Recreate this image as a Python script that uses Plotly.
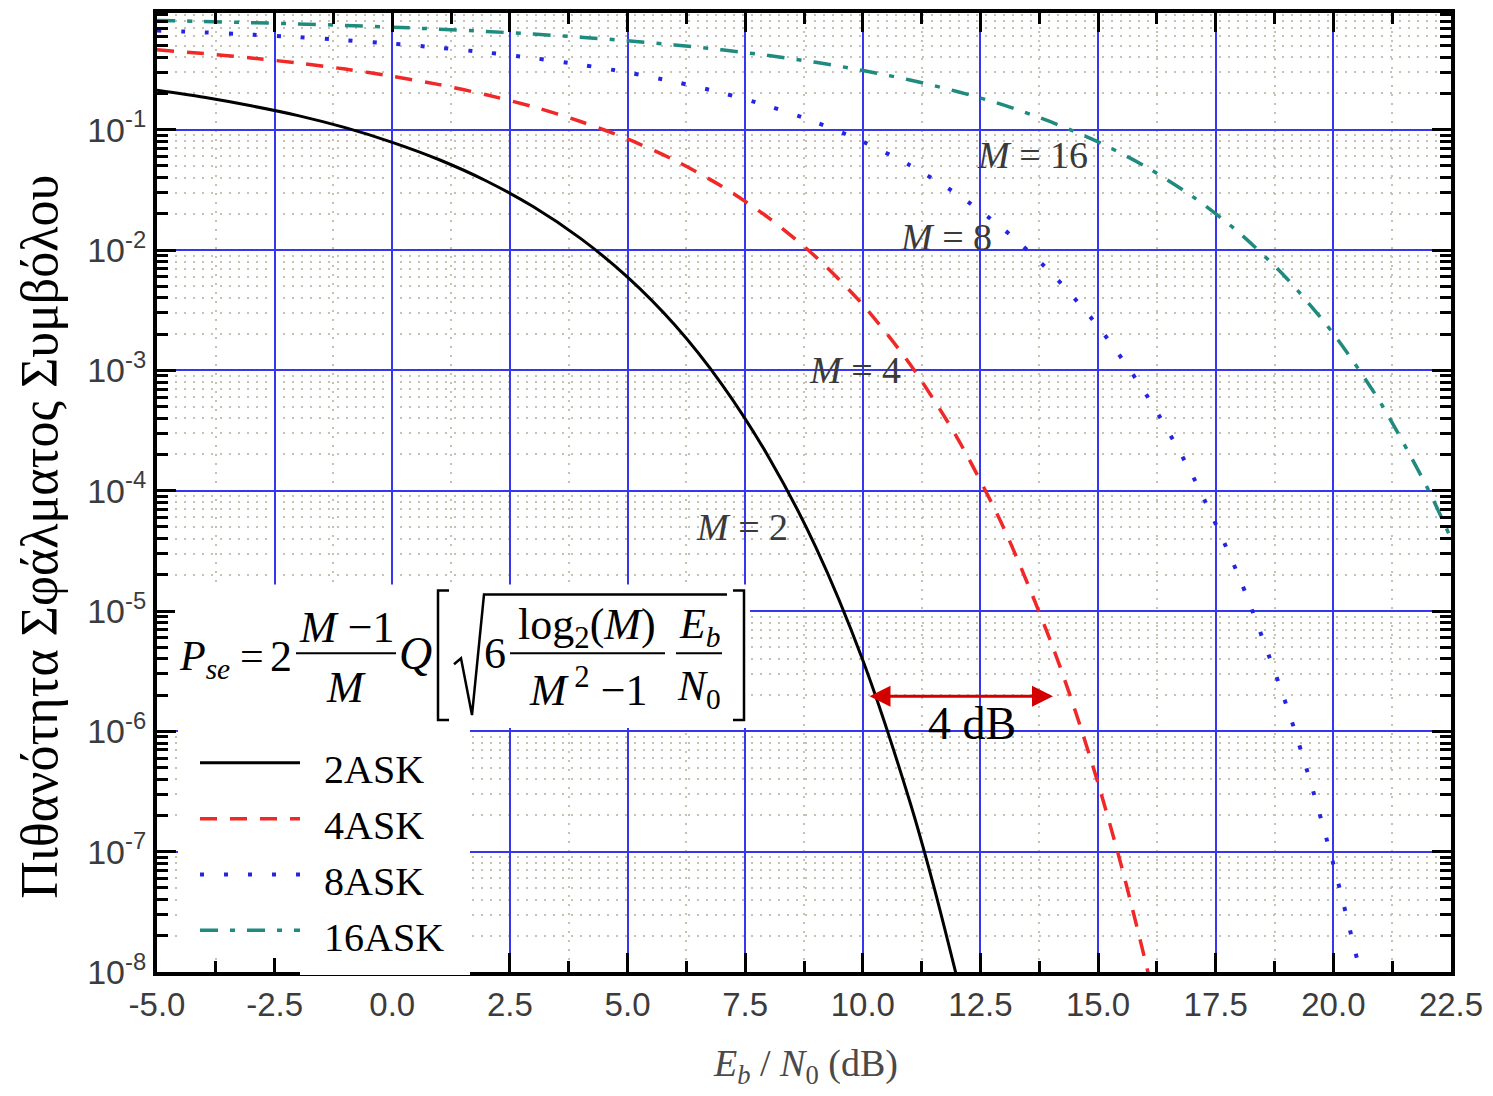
import plotly.graph_objects as go

# ---------------- data ----------------
snr_2ask = [-5, -4, -3, -2, -1, 0, 1, 2, 3, 4, 5, 6, 7, 8, 9, 10, 11, 11.5, 12]
pse_2ask = [0.213, 0.186, 0.158, 0.131, 0.104, 0.0786, 0.0563, 0.0375, 0.0229, 0.0125,
            0.00595, 0.00239, 7.7e-4, 1.9e-4, 3.4e-5, 3.9e-6, 2.6e-7, 5.3e-8, 9e-9]

snr_4ask = [-5, -4, -3, -2, -1, 0, 1, 2, 3, 4, 5, 6, 7, 8, 9, 10, 11, 12, 13, 14, 14.5, 15, 15.5, 16, 16.1]
pse_4ask = [0.461, 0.429, 0.395, 0.358, 0.319, 0.278, 0.237, 0.195, 0.155, 0.117, 0.0838,
            0.0557, 0.0339, 0.0185, 0.00878, 0.00351, 1.13e-3, 2.78e-4, 4.85e-5, 5.5e-6,
            1.54e-6, 3.7e-7, 7.5e-8, 1.25e-8, 8.5e-9]

snr_8ask = [-5, -4, -3, -2, -1, 0, 1, 2, 3, 4, 5, 6, 7, 8, 9, 10, 11, 12, 13, 14, 15,
            16, 17, 18, 19, 19.5, 20, 20.5]
pse_8ask = [0.668, 0.644, 0.617, 0.587, 0.555, 0.519, 0.480, 0.438, 0.394, 0.347, 0.299,
            0.250, 0.2025, 0.157, 0.1155, 0.0796, 0.0506, 0.0292, 0.0148, 0.00646, 0.00232,
            6.5e-4, 1.35e-4, 1.9e-5, 1.66e-6, 3.95e-7, 7.9e-8, 1.3e-8]

snr_16ask = [-5, -4, -3, -2, -1, 0, 1, 2, 3, 4, 5, 6, 7, 8, 9, 10, 11, 12, 13, 14, 15,
             16, 17, 18, 19, 20, 21, 22, 22.5, 23]
pse_16ask = [0.809, 0.794, 0.776, 0.757, 0.736, 0.712, 0.685, 0.656, 0.623, 0.588, 0.549,
             0.507, 0.461, 0.413, 0.363, 0.311, 0.259, 0.208, 0.160, 0.116, 0.0792, 0.0496,
             0.0280, 0.0139, 0.00586, 0.00202, 5.4e-4, 1.05e-4, 4.0e-5, 1.38e-5]

series_names = ["2ASK", "4ASK", "8ASK", "16ASK"]
curve_labels = ["<i>M</i> = 2", "<i>M</i> = 4", "<i>M</i> = 8", "<i>M</i> = 16"]

x_tickvals = [-5, -2.5, 0, 2.5, 5, 7.5, 10, 12.5, 15, 17.5, 20, 22.5]
x_ticktext = ["-5.0", "-2.5", "0.0", "2.5", "5.0", "7.5", "10.0", "12.5", "15.0", "17.5", "20.0", "22.5"]
y_exponents = [-8, -7, -6, -5, -4, -3, -2, -1]

# ---------------- styling ----------------
colors = ["#000000", "#f02828", "#2424e6", "#1f8a7e"]
dashes = ["solid", "17px,13px", "4px,20px", "18px,12px,5px,12px"]
widths = [3, 3.5, 4, 3.5]

SERIF = "Liberation Serif, Times New Roman, serif"
SANS = "Liberation Sans, Arial, sans-serif"

L, R, T, B = 157, 1451, 9, 972
W, H = 1493, 1096


def px(x):
    return (x - L) / (R - L)


def py(y):
    return (B - y) / (B - T)


fig = go.Figure()
xs = [snr_2ask, snr_4ask, snr_8ask, snr_16ask]
ys = [pse_2ask, pse_4ask, pse_8ask, pse_16ask]
for i in range(4):
    fig.add_trace(go.Scatter(
        x=xs[i], y=ys[i], mode="lines", name=series_names[i],
        line=dict(color=colors[i], width=widths[i], dash=dashes[i], shape="spline", smoothing=0.8),
        showlegend=False, hoverinfo="skip"))

y_tickvals = [10.0 ** e for e in y_exponents]
y_ticktext = ["10<sup>%d</sup>" % e for e in y_exponents]
y_minor = [k * 10.0 ** e for e in y_exponents for k in range(2, 10)]

MINOR_GRID = "#c6c2b2"

axis_common = dict(
    ticks="inside", tickcolor="black", tickwidth=3, ticklen=19,
    showline=True, linecolor="black", linewidth=4, mirror="ticks",
    showgrid=True, gridcolor="#3636ee", gridwidth=2, zeroline=False,
)

fig.update_layout(
    width=W, height=H,
    margin=dict(l=L, r=W - R, t=T, b=H - B),
    paper_bgcolor="white", plot_bgcolor="white",
    showlegend=False,
    xaxis=dict(range=[-5, 22.5], tickmode="array", tickvals=x_tickvals, ticktext=x_ticktext,
               tickfont=dict(family=SANS, size=33, color="#3c3c3c"),
               minor=dict(tick0=-5, dtick=1.25, ticks="inside", ticklen=11, tickwidth=3,
                          tickcolor="black", showgrid=True, gridcolor=MINOR_GRID,
                          griddash="2px,7px", gridwidth=1.5),
               **axis_common),
    yaxis=dict(type="log", range=[-8, -0.03], tickmode="array", tickvals=y_tickvals,
               ticktext=y_ticktext,
               tickfont=dict(family=SANS, size=34, color="#3c3c3c"),
               minor=dict(tickmode="array", tickvals=y_minor, ticks="inside", ticklen=11,
                          tickwidth=3, tickcolor="black", showgrid=True, gridcolor=MINOR_GRID,
                          griddash="2px,7px", gridwidth=1.5),
               **axis_common),
)

shapes = []
# white boxes (formula + legend)
shapes.append(dict(type="rect", xref="paper", yref="paper", layer="above",
                   x0=px(175), x1=px(750), y0=py(727), y1=py(583),
                   fillcolor="white", line=dict(width=0)))
shapes.append(dict(type="rect", xref="paper", yref="paper", layer="above",
                   x0=px(178), x1=px(301), y0=py(958), y1=py(727),
                   fillcolor="white", line=dict(width=0)))
shapes.append(dict(type="rect", xref="paper", yref="paper", layer="above",
                   x0=px(300), x1=px(470), y0=py(975), y1=py(727),
                   fillcolor="white", line=dict(width=0)))

# legend sample lines
leg_y = [762, 818, 874, 930]
for i in range(4):
    shapes.append(dict(type="line", xref="paper", yref="paper", layer="above",
                       x0=px(200), x1=px(300), y0=py(leg_y[i]), y1=py(leg_y[i]),
                       line=dict(color=colors[i], width=widths[i], dash=dashes[i])))


def path(points):
    return "M " + " L ".join("%.5f,%.5f" % (px(a), py(b)) for a, b in points)


fml = dict(color="black", width=2.5)
# brackets
shapes.append(dict(type="path", xref="paper", yref="paper", layer="above",
                   path=path([(449, 589), (438, 589), (438, 719), (449, 719)]), line=fml))
shapes.append(dict(type="path", xref="paper", yref="paper", layer="above",
                   path=path([(733, 589), (744, 589), (744, 719), (733, 719)]), line=fml))
# radical sign
shapes.append(dict(type="path", xref="paper", yref="paper", layer="above",
                   path=path([(454, 663), (461, 657), (472, 714), (484, 593), (727, 593)]), line=fml))
# fraction bars
for xa, xb in [(296, 396), (510, 665), (676, 722)]:
    shapes.append(dict(type="line", xref="paper", yref="paper", layer="above",
                       x0=px(xa), x1=px(xb), y0=py(652), y1=py(652), line=dict(color="black", width=2)))

fig.update_layout(shapes=shapes)

ann = []


def text(x, y, s, size, color="black", xanchor="center", font=SERIF, **kw):
    ann.append(dict(x=px(x), y=py(y), xref="paper", yref="paper", text=s, showarrow=False,
                    xanchor=xanchor, yanchor="middle",
                    font=dict(family=font, size=size, color=color), **kw))


# legend labels
for i in range(4):
    text(322, leg_y[i] + 7, series_names[i], 40, xanchor="left")

# formula
text(204, 658, "<i>P<sub>se</sub></i>", 42)
text(252, 655, "=", 42)
text(281, 655, "2", 44)
text(346, 626, "<i>M</i> \u22121", 44)
text(346, 686, "<i>M</i>", 44)
text(415, 652, "<i>Q</i>", 46)
text(495, 652, "6", 44)
text(587, 626, "log<sub>2</sub>(<i>M</i>)", 44)
text(588, 686, "<i>M</i><sup> 2</sup> \u22121", 44)
text(699, 626, "<i>E<sub>b</sub></i>", 42)
text(699, 688, "<i>N</i><sub>0</sub>", 42)

# curve labels
label_pos = [(742, 525), (855, 367), (946, 234), (1032, 152)]
for (lx, ly), s in zip(label_pos, curve_labels):
    text(lx, ly, s, 38, color="#3a3a3a")

# 4 dB marker
text(972, 722, "4 dB", 46)
ann.append(dict(x=px(1053), y=py(695), ax=868 - 1053, ay=0, xref="paper", yref="paper",
                axref="pixel", ayref="pixel", text="", showarrow=True, arrowhead=2,
                arrowside="end+start", arrowsize=1.4, arrowwidth=3, arrowcolor="#d40000",
                standoff=0, startstandoff=0))

# axis titles
text(805, 1066, "<i>E<sub>b</sub></i> / <i>N</i><sub>0</sub> (dB)", 38, color="#4a4a4a")
text(40, 535, "Πιθανότητα Σφάλματος Συμβόλου", 52, textangle=-90)

fig.update_layout(annotations=ann)
fig.write_html("out.html")
